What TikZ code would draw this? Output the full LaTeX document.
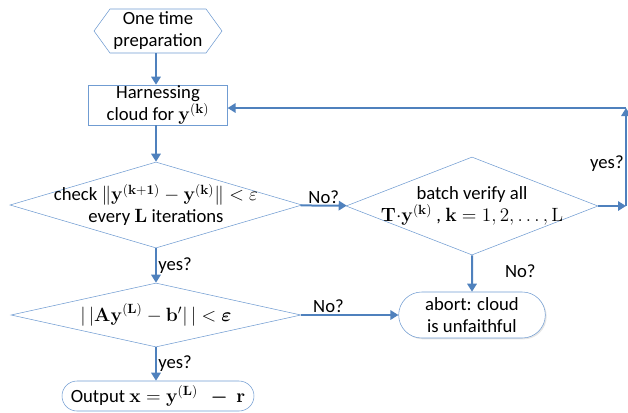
\documentclass[tikz,border=0pt]{standalone}
\usepackage{amsmath}
\usepackage[no-math]{fontspec}
\setmainfont{Carlito}
\usetikzlibrary{arrows.meta,shapes.geometric,shapes.misc,shapes.symbols,shadows}
\definecolor{flowline}{RGB}{79,129,189}
\definecolor{flowedge}{RGB}{112,156,210}

\begin{document}
\begin{tikzpicture}[x=0.75pt,y=-0.75pt,
 font=\fontsize{14}{16.5}\selectfont,
 every node/.style={align=center, inner sep=1pt},
 box/.style={draw=flowedge, thin, fill=white},
 decide/.style={box, diamond, inner sep=0pt},
 ending/.style={box, rounded rectangle, inner sep=0pt},
 flow/.style={draw=flowline, line width=1.5pt, -{Triangle[length=6pt,width=7pt]}}
 ]
 \useasboundingbox (0,0) rectangle (628,412);
 \node[box, shape=signal, signal to=west and east, signal pointer angle=108,
 minimum width=96pt, minimum height=33pt] (prep) at (158,31) {One time\\preparation};
 \node[box, inner sep=0pt, minimum width=104pt, minimum height=30pt] (harness) at (158,105)
 {Harnessing\\cloud for $\mathbf{y}^{(\mathbf{k})}$};
 \node[decide, minimum width=219pt, minimum height=64.5pt,
 label={center:check $\|\mathbf{y}^{(\mathbf{k+1})} - \mathbf{y}^{(\mathbf{k})}\| < \varepsilon$\\
 every $\mathbf{L}$ iterations}] (check) at (156,205) {};
 \node[decide, minimum width=189pt, minimum height=73.5pt,
 label={center:batch verify all\\
 $\mathbf{T}{\cdot}\mathbf{y}^{(\mathbf{k})}$ , $\mathbf{k} = 1, 2, \ldots, \mathrm{L}$}] (batch) at (472,206) {};
 \node[decide, minimum width=217.5pt, minimum height=48pt,
 label={center:$|\,|\mathbf{Ay}^{(\mathbf{L})} - \mathbf{b}'|\,| < \boldsymbol{\varepsilon}$}] (norm) at (156,315) {};
 \node[ending, minimum width=110pt, minimum height=34.5pt,
 drop shadow={opacity=0.2, shadow xshift=1pt, shadow yshift=-1pt}] (abort) at (472,315)
 {abort: cloud\\is unfaithful};
 \node[ending, minimum width=144pt, minimum height=22.5pt] (output) at (158,396)
 {Output $\mathbf{x} = \mathbf{y}^{(\mathbf{L})}\ \ \boldsymbol{-}\ \mathbf{r}$};
 \coordinate (c1) at (626,206);
 \coordinate (c2) at (626,108);
 \draw[flow] (prep.south -| check) -- (harness.north -| check);
 \draw[flow] (harness.south -| check) -- (check);
 \draw[flow] (check) -- node[above] {No?} (batch);
 \draw[flow] (check) -- node[right] {yes?} (norm);
 \draw[flow] (batch) -- node[right, xshift=23pt, pos=0.45] {No?} (abort);
 \draw[flow] (norm) -- node[above, pos=0.28] {No?} (abort);
 \draw[flow] (norm) -- node[right] {yes?} (output.north -| norm);
 \draw[flow] (batch.east) -- (c1);
 \draw[flow] (c1) -- node[left, pos=0.43] {yes?} (c2);
 \draw[flow] (c2) -- (c2 -| harness.east);
\end{tikzpicture}
\end{document}
